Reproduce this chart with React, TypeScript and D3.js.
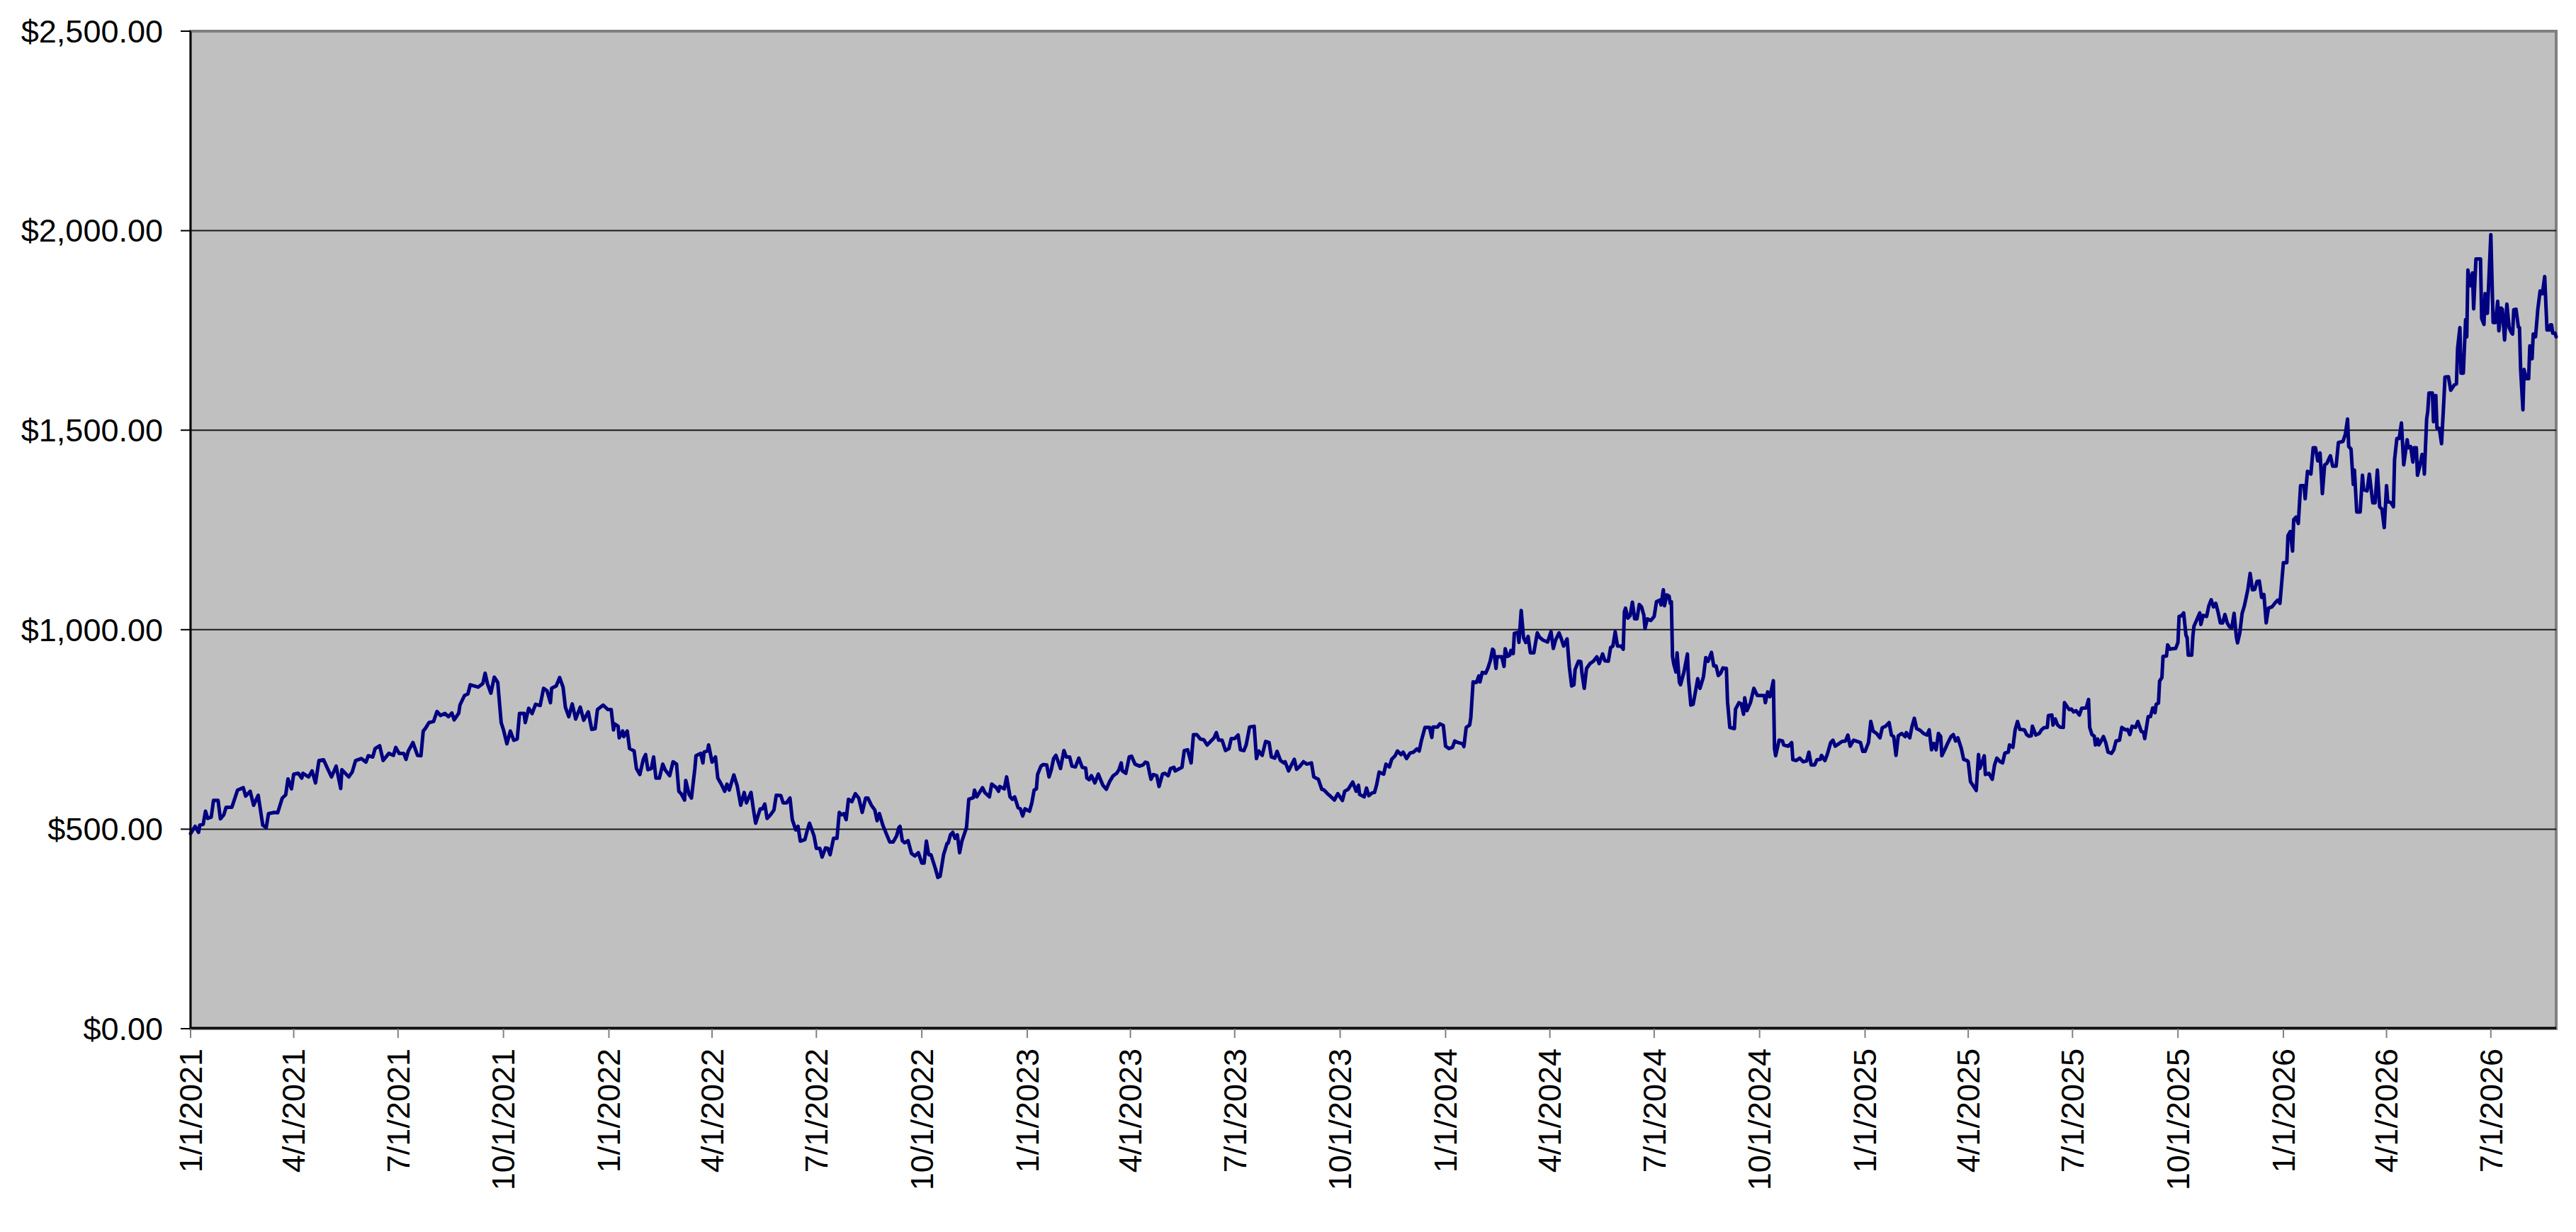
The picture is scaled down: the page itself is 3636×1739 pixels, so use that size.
import React from 'react';
import * as d3 from 'd3';

type Row = [string, number];

// closing prices, one small list per year
const prices2021: Row[] = [
  ['2021-01-01', 489], ['2021-01-05', 507], ['2021-01-08', 492], ['2021-01-09', 510], ['2021-01-12', 512],
  ['2021-01-14', 545], ['2021-01-16', 527], ['2021-01-19', 530], ['2021-01-21', 572], ['2021-01-25', 572],
  ['2021-01-27', 526], ['2021-01-30', 536], ['2021-02-01', 555], ['2021-02-06', 555], ['2021-02-11', 598],
  ['2021-02-16', 604], ['2021-02-18', 583], ['2021-02-22', 595], ['2021-02-25', 560], ['2021-03-01', 585],
  ['2021-03-05', 510], ['2021-03-08', 504], ['2021-03-10', 539], ['2021-03-15', 542], ['2021-03-18', 541],
  ['2021-03-22', 578], ['2021-03-25', 586], ['2021-03-27', 626], ['2021-03-30', 601], ['2021-04-01', 638],
  ['2021-04-05', 640], ['2021-04-08', 628], ['2021-04-09', 640], ['2021-04-14', 631], ['2021-04-17', 646],
  ['2021-04-20', 616], ['2021-04-23', 672], ['2021-04-27', 674], ['2021-05-01', 649], ['2021-05-04', 631],
  ['2021-05-08', 658], ['2021-05-12', 602], ['2021-05-13', 649], ['2021-05-19', 631], ['2021-05-22', 643],
  ['2021-05-25', 672], ['2021-05-30', 677], ['2021-06-03', 668], ['2021-06-05', 684], ['2021-06-09', 681],
  ['2021-06-11', 702], ['2021-06-15', 709], ['2021-06-18', 672], ['2021-06-23', 690], ['2021-06-27', 685],
  ['2021-06-29', 705], ['2021-07-02', 690], ['2021-07-06', 690], ['2021-07-08', 675], ['2021-07-10', 696],
  ['2021-07-14', 717], ['2021-07-18', 685], ['2021-07-21', 684], ['2021-07-23', 746], ['2021-07-25', 753],
  ['2021-07-28', 767], ['2021-08-01', 770], ['2021-08-04', 795], ['2021-08-07', 785], ['2021-08-11', 790],
  ['2021-08-14', 782], ['2021-08-17', 791], ['2021-08-19', 774], ['2021-08-23', 791], ['2021-08-24', 811],
  ['2021-08-28', 835], ['2021-08-31', 839], ['2021-09-02', 862], ['2021-09-09', 856], ['2021-09-13', 865],
  ['2021-09-15', 891], ['2021-09-17', 865], ['2021-09-20', 841], ['2021-09-23', 881], ['2021-09-26', 868],
  ['2021-09-29', 767], ['2021-10-01', 749], ['2021-10-04', 714], ['2021-10-07', 746], ['2021-10-10', 723],
  ['2021-10-13', 726], ['2021-10-15', 790], ['2021-10-19', 790], ['2021-10-20', 767], ['2021-10-23', 803],
  ['2021-10-26', 790], ['2021-10-29', 813], ['2021-11-02', 810], ['2021-11-05', 853], ['2021-11-08', 847],
  ['2021-11-11', 817], ['2021-11-12', 853], ['2021-11-16', 859], ['2021-11-19', 880], ['2021-11-22', 856],
  ['2021-11-24', 806], ['2021-11-27', 782], ['2021-11-30', 814], ['2021-12-03', 776], ['2021-12-07', 806],
  ['2021-12-10', 773], ['2021-12-14', 794], ['2021-12-17', 750], ['2021-12-20', 752], ['2021-12-22', 800],
  ['2021-12-27', 811], ['2021-12-31', 800],
];

const prices2022: Row[] = [
  ['2022-01-03', 800], ['2022-01-05', 749], ['2022-01-06', 764], ['2022-01-09', 758], ['2022-01-10', 729],
  ['2022-01-13', 746], ['2022-01-14', 732], ['2022-01-17', 746], ['2022-01-19', 702], ['2022-01-23', 696],
  ['2022-01-25', 652], ['2022-01-28', 637], ['2022-01-31', 675], ['2022-02-02', 687], ['2022-02-04', 649],
  ['2022-02-07', 652], ['2022-02-09', 681], ['2022-02-11', 628], ['2022-02-14', 628], ['2022-02-17', 663],
  ['2022-02-19', 649], ['2022-02-23', 634], ['2022-02-26', 669], ['2022-03-01', 663], ['2022-03-03', 595],
  ['2022-03-05', 589], ['2022-03-08', 573], ['2022-03-09', 622], ['2022-03-12', 587], ['2022-03-14', 578],
  ['2022-03-17', 652], ['2022-03-18', 684], ['2022-03-22', 690], ['2022-03-24', 666], ['2022-03-25', 693],
  ['2022-03-28', 696], ['2022-03-29', 711], ['2022-04-01', 668], ['2022-04-04', 681], ['2022-04-06', 628],
  ['2022-04-09', 613], ['2022-04-12', 595], ['2022-04-14', 613], ['2022-04-16', 598], ['2022-04-20', 636],
  ['2022-04-23', 608], ['2022-04-26', 560], ['2022-04-29', 592], ['2022-05-01', 566], ['2022-05-05', 592],
  ['2022-05-07', 551], ['2022-05-09', 515], ['2022-05-13', 551], ['2022-05-15', 551], ['2022-05-17', 563],
  ['2022-05-19', 527], ['2022-05-22', 536], ['2022-05-25', 548], ['2022-05-27', 585], ['2022-05-31', 584],
  ['2022-06-02', 566], ['2022-06-05', 566], ['2022-06-08', 578], ['2022-06-10', 524], ['2022-06-13', 498],
  ['2022-06-15', 507], ['2022-06-17', 470], ['2022-06-21', 474], ['2022-06-23', 496], ['2022-06-25', 515],
  ['2022-06-29', 483], ['2022-07-01', 452], ['2022-07-04', 452], ['2022-07-06', 430], ['2022-07-09', 453],
  ['2022-07-11', 452], ['2022-07-13', 436], ['2022-07-16', 477], ['2022-07-19', 477], ['2022-07-21', 542],
  ['2022-07-23', 536], ['2022-07-25', 539], ['2022-07-27', 524], ['2022-07-29', 575], ['2022-08-01', 569],
  ['2022-08-04', 589], ['2022-08-07', 578], ['2022-08-10', 542], ['2022-08-13', 578], ['2022-08-15', 578],
  ['2022-08-18', 560], ['2022-08-21', 548], ['2022-08-23', 521], ['2022-08-25', 539], ['2022-08-28', 510],
  ['2022-08-31', 489], ['2022-09-03', 468], ['2022-09-06', 468], ['2022-09-09', 483], ['2022-09-11', 504],
  ['2022-09-12', 507], ['2022-09-14', 471], ['2022-09-16', 466], ['2022-09-19', 471], ['2022-09-22', 439],
  ['2022-09-25', 433], ['2022-09-28', 441], ['2022-10-01', 415], ['2022-10-03', 415], ['2022-10-05', 470],
  ['2022-10-07', 436], ['2022-10-09', 436], ['2022-10-13', 400], ['2022-10-15', 379], ['2022-10-17', 382],
  ['2022-10-20', 436], ['2022-10-23', 464], ['2022-10-24', 465], ['2022-10-26', 486], ['2022-10-28', 492],
  ['2022-10-30', 477], ['2022-11-01', 486], ['2022-11-03', 441], ['2022-11-05', 470], ['2022-11-09', 504],
  ['2022-11-11', 575], ['2022-11-15', 579], ['2022-11-16', 598], ['2022-11-18', 581], ['2022-11-21', 595],
  ['2022-11-23', 604], ['2022-11-25', 592], ['2022-11-29', 581], ['2022-12-01', 613], ['2022-12-05', 604],
  ['2022-12-07', 595], ['2022-12-08', 607], ['2022-12-12', 601], ['2022-12-14', 631], ['2022-12-17', 581],
  ['2022-12-19', 575], ['2022-12-21', 581], ['2022-12-24', 554], ['2022-12-26', 551], ['2022-12-28', 533],
  ['2022-12-30', 551],
];

const prices2023: Row[] = [
  ['2023-01-03', 545], ['2023-01-05', 566], ['2023-01-07', 598], ['2023-01-09', 601], ['2023-01-10', 637],
  ['2023-01-13', 658], ['2023-01-15', 662], ['2023-01-18', 661], ['2023-01-20', 631], ['2023-01-22', 649],
  ['2023-01-24', 677], ['2023-01-26', 685], ['2023-01-28', 669], ['2023-01-30', 652], ['2023-02-02', 697],
  ['2023-02-04', 681], ['2023-02-07', 681], ['2023-02-09', 658], ['2023-02-12', 656], ['2023-02-15', 678],
  ['2023-02-18', 655], ['2023-02-21', 653], ['2023-02-22', 628], ['2023-02-24', 624], ['2023-02-26', 634],
  ['2023-03-01', 616], ['2023-03-04', 638], ['2023-03-08', 610], ['2023-03-11', 600], ['2023-03-14', 620],
  ['2023-03-17', 634], ['2023-03-20', 640], ['2023-03-22', 649], ['2023-03-24', 666], ['2023-03-25', 646],
  ['2023-03-28', 640], ['2023-03-31', 681], ['2023-04-02', 683], ['2023-04-05', 663], ['2023-04-09', 658],
  ['2023-04-12', 661], ['2023-04-14', 668], ['2023-04-16', 666], ['2023-04-18', 637], ['2023-04-19', 625],
  ['2023-04-21', 637], ['2023-04-24', 634], ['2023-04-26', 607], ['2023-04-29', 638], ['2023-05-01', 640],
  ['2023-05-04', 634], ['2023-05-06', 652], ['2023-05-09', 655], ['2023-05-10', 646], ['2023-05-12', 649],
  ['2023-05-16', 655], ['2023-05-18', 697], ['2023-05-21', 699], ['2023-05-24', 666], ['2023-05-26', 737],
  ['2023-05-29', 737], ['2023-06-01', 726], ['2023-06-04', 724], ['2023-06-07', 711], ['2023-06-10', 720],
  ['2023-06-13', 729], ['2023-06-15', 742], ['2023-06-17', 723], ['2023-06-20', 723], ['2023-06-23', 697],
  ['2023-06-26', 702], ['2023-06-28', 727], ['2023-07-01', 727], ['2023-07-04', 736], ['2023-07-06', 699],
  ['2023-07-09', 697], ['2023-07-11', 711], ['2023-07-14', 756], ['2023-07-18', 758], ['2023-07-20', 677],
  ['2023-07-22', 696], ['2023-07-25', 685], ['2023-07-28', 720], ['2023-07-31', 717], ['2023-08-02', 681],
  ['2023-08-05', 678], ['2023-08-07', 695], ['2023-08-10', 672], ['2023-08-13', 666], ['2023-08-14', 669],
  ['2023-08-17', 646], ['2023-08-19', 658], ['2023-08-22', 675], ['2023-08-24', 650], ['2023-08-27', 658],
  ['2023-08-30', 669], ['2023-09-02', 663], ['2023-09-06', 666], ['2023-09-08', 631], ['2023-09-12', 625],
  ['2023-09-15', 600], ['2023-09-17', 598], ['2023-09-20', 589], ['2023-09-22', 584], ['2023-09-26', 573],
  ['2023-09-29', 589], ['2023-10-03', 572], ['2023-10-05', 595], ['2023-10-08', 600], ['2023-10-12', 618],
  ['2023-10-15', 595], ['2023-10-17', 610], ['2023-10-18', 587], ['2023-10-22', 581], ['2023-10-24', 603],
  ['2023-10-26', 584], ['2023-10-29', 591], ['2023-10-31', 592], ['2023-11-02', 613], ['2023-11-04', 643],
  ['2023-11-08', 638], ['2023-11-10', 663], ['2023-11-13', 656], ['2023-11-15', 675], ['2023-11-18', 684],
  ['2023-11-20', 696], ['2023-11-23', 687], ['2023-11-25', 693], ['2023-11-28', 677], ['2023-12-01', 691],
  ['2023-12-04', 693], ['2023-12-07', 701], ['2023-12-09', 696], ['2023-12-11', 723], ['2023-12-14', 755],
  ['2023-12-18', 755], ['2023-12-20', 730], ['2023-12-21', 756], ['2023-12-25', 756], ['2023-12-27', 764],
  ['2023-12-30', 760],
];

const prices2024: Row[] = [
  ['2024-01-01', 708], ['2024-01-04', 702], ['2024-01-07', 705], ['2024-01-09', 721], ['2024-01-12', 717],
  ['2024-01-16', 714], ['2024-01-17', 707], ['2024-01-19', 755], ['2024-01-22', 761], ['2024-01-23', 779],
  ['2024-01-25', 869], ['2024-01-28', 868], ['2024-01-30', 884], ['2024-01-31', 869], ['2024-02-02', 893],
  ['2024-02-05', 891], ['2024-02-07', 904], ['2024-02-09', 922], ['2024-02-11', 951], ['2024-02-12', 948],
  ['2024-02-14', 903], ['2024-02-15', 932], ['2024-02-19', 932], ['2024-02-21', 908], ['2024-02-22', 952],
  ['2024-02-24', 933], ['2024-02-26', 936], ['2024-02-27', 948], ['2024-02-29', 940], ['2024-03-01', 991],
  ['2024-03-04', 993], ['2024-03-05', 968], ['2024-03-07', 1048], ['2024-03-09', 980], ['2024-03-11', 968],
  ['2024-03-13', 983], ['2024-03-15', 942], ['2024-03-18', 942], ['2024-03-21', 992], ['2024-03-23', 981],
  ['2024-03-26', 974], ['2024-03-30', 969], ['2024-04-02', 995], ['2024-04-04', 953], ['2024-04-06', 974],
  ['2024-04-09', 992], ['2024-04-11', 977], ['2024-04-13', 959], ['2024-04-16', 977], ['2024-04-18', 906],
  ['2024-04-20', 859], ['2024-04-22', 862], ['2024-04-23', 900], ['2024-04-26', 921], ['2024-04-28', 920],
  ['2024-04-29', 891], ['2024-05-01', 853], ['2024-05-03', 903], ['2024-05-06', 915], ['2024-05-09', 921],
  ['2024-05-12', 932], ['2024-05-14', 915], ['2024-05-17', 939], ['2024-05-19', 922], ['2024-05-22', 921],
  ['2024-05-24', 955], ['2024-05-26', 959], ['2024-05-28', 995], ['2024-05-30', 959], ['2024-06-02', 959],
  ['2024-06-04', 951], ['2024-06-05', 1045], ['2024-06-06', 1054], ['2024-06-08', 1029], ['2024-06-10', 1035],
  ['2024-06-12', 1069], ['2024-06-14', 1027], ['2024-06-16', 1027], ['2024-06-18', 1063], ['2024-06-20', 1057],
  ['2024-06-22', 1036], ['2024-06-23', 1003], ['2024-06-25', 1027], ['2024-06-28', 1023], ['2024-07-01', 1033],
  ['2024-07-03', 1070], ['2024-07-06', 1074], ['2024-07-07', 1062], ['2024-07-09', 1100], ['2024-07-10', 1060],
  ['2024-07-12', 1087], ['2024-07-14', 1084], ['2024-07-15', 1066], ['2024-07-16', 1070], ['2024-07-17', 933],
  ['2024-07-18', 915], ['2024-07-20', 894], ['2024-07-21', 942], ['2024-07-23', 868], ['2024-07-24', 862],
  ['2024-07-27', 894], ['2024-07-30', 939], ['2024-07-31', 874], ['2024-08-02', 811], ['2024-08-04', 813],
  ['2024-08-06', 844], ['2024-08-08', 877], ['2024-08-10', 853], ['2024-08-13', 882], ['2024-08-15', 930],
  ['2024-08-17', 921], ['2024-08-20', 943], ['2024-08-22', 909], ['2024-08-24', 909], ['2024-08-26', 885],
  ['2024-08-28', 891], ['2024-08-30', 904], ['2024-09-02', 903], ['2024-09-03', 820], ['2024-09-05', 755],
  ['2024-09-09', 752], ['2024-09-10', 801], ['2024-09-13', 817], ['2024-09-15', 814], ['2024-09-17', 788],
  ['2024-09-18', 829], ['2024-09-20', 797], ['2024-09-23', 817], ['2024-09-26', 853], ['2024-09-29', 835],
  ['2024-10-02', 835], ['2024-10-05', 835], ['2024-10-06', 817], ['2024-10-08', 844], ['2024-10-10', 832],
  ['2024-10-13', 872], ['2024-10-14', 702], ['2024-10-15', 684], ['2024-10-18', 723], ['2024-10-21', 721],
  ['2024-10-22', 711], ['2024-10-26', 708], ['2024-10-29', 717], ['2024-10-30', 674], ['2024-11-02', 672],
  ['2024-11-05', 678], ['2024-11-08', 669], ['2024-11-11', 671], ['2024-11-13', 693], ['2024-11-15', 661],
  ['2024-11-18', 661], ['2024-11-20', 674], ['2024-11-23', 675], ['2024-11-24', 685], ['2024-11-27', 672],
  ['2024-11-29', 687], ['2024-12-02', 717], ['2024-12-04', 723], ['2024-12-06', 708], ['2024-12-09', 714],
  ['2024-12-12', 720], ['2024-12-15', 721], ['2024-12-17', 736], ['2024-12-19', 708], ['2024-12-22', 723],
  ['2024-12-24', 721], ['2024-12-28', 717], ['2024-12-30', 695],
];

const prices2025: Row[] = [
  ['2025-01-01', 695], ['2025-01-04', 717], ['2025-01-06', 770], ['2025-01-08', 746], ['2025-01-11', 740],
  ['2025-01-14', 729], ['2025-01-16', 754], ['2025-01-19', 758], ['2025-01-22', 767], ['2025-01-24', 736],
  ['2025-01-26', 732], ['2025-01-28', 685], ['2025-01-30', 734], ['2025-02-02', 740], ['2025-02-05', 732],
  ['2025-02-06', 742], ['2025-02-09', 729], ['2025-02-11', 758], ['2025-02-13', 778], ['2025-02-15', 752],
  ['2025-02-18', 748], ['2025-02-21', 740], ['2025-02-24', 736], ['2025-02-26', 749], ['2025-02-28', 699],
  ['2025-03-02', 715], ['2025-03-04', 699], ['2025-03-06', 740], ['2025-03-08', 732], ['2025-03-09', 684],
  ['2025-03-12', 702], ['2025-03-14', 715], ['2025-03-17', 732], ['2025-03-19', 737], ['2025-03-21', 721],
  ['2025-03-23', 729], ['2025-03-26', 702], ['2025-03-28', 675], ['2025-03-31', 672], ['2025-04-01', 669],
  ['2025-04-03', 619], ['2025-04-06', 606], ['2025-04-08', 597], ['2025-04-10', 687], ['2025-04-11', 652],
  ['2025-04-13', 666], ['2025-04-15', 684], ['2025-04-16', 637], ['2025-04-19', 640], ['2025-04-22', 625],
  ['2025-04-24', 661], ['2025-04-26', 678], ['2025-04-29', 669], ['2025-05-01', 666], ['2025-05-03', 691],
  ['2025-05-06', 693], ['2025-05-07', 711], ['2025-05-10', 705], ['2025-05-12', 750], ['2025-05-14', 770],
  ['2025-05-16', 750], ['2025-05-20', 749], ['2025-05-22', 737], ['2025-05-24', 733], ['2025-05-26', 734],
  ['2025-05-27', 758], ['2025-05-30', 736], ['2025-06-02', 740], ['2025-06-04', 749], ['2025-06-06', 754],
  ['2025-06-09', 755], ['2025-06-10', 785], ['2025-06-13', 786], ['2025-06-14', 761], ['2025-06-16', 776],
  ['2025-06-18', 761], ['2025-06-20', 756], ['2025-06-23', 755], ['2025-06-24', 817], ['2025-06-28', 800],
  ['2025-06-30', 801], ['2025-07-02', 794], ['2025-07-04', 797], ['2025-07-07', 786], ['2025-07-09', 803],
  ['2025-07-13', 804], ['2025-07-15', 825], ['2025-07-16', 755], ['2025-07-18', 737], ['2025-07-20', 733],
  ['2025-07-21', 711], ['2025-07-23', 726], ['2025-07-24', 711], ['2025-07-26', 721], ['2025-07-28', 732],
  ['2025-07-30', 717], ['2025-08-01', 693], ['2025-08-04', 690], ['2025-08-06', 699], ['2025-08-08', 721],
  ['2025-08-11', 723], ['2025-08-13', 755], ['2025-08-16', 749], ['2025-08-18', 750], ['2025-08-20', 737],
  ['2025-08-22', 758], ['2025-08-25', 755], ['2025-08-27', 770], ['2025-08-30', 745], ['2025-09-01', 743],
  ['2025-09-02', 727], ['2025-09-05', 782], ['2025-09-07', 782], ['2025-09-09', 804], ['2025-09-11', 792],
  ['2025-09-12', 813], ['2025-09-14', 816], ['2025-09-15', 871], ['2025-09-17', 880], ['2025-09-18', 933],
  ['2025-09-21', 934], ['2025-09-22', 962], ['2025-09-24', 951], ['2025-09-26', 952], ['2025-09-29', 953],
  ['2025-10-01', 968], ['2025-10-02', 1033], ['2025-10-04', 1035], ['2025-10-06', 1042], ['2025-10-08', 986],
  ['2025-10-09', 980], ['2025-10-10', 936], ['2025-10-13', 936], ['2025-10-14', 983], ['2025-10-15', 1009],
  ['2025-10-17', 1022], ['2025-10-20', 1042], ['2025-10-21', 1013], ['2025-10-23', 1036], ['2025-10-26', 1033],
  ['2025-10-28', 1060], ['2025-10-30', 1075], ['2025-11-01', 1057], ['2025-11-03', 1066], ['2025-11-05', 1044],
  ['2025-11-07', 1017], ['2025-11-09', 1017], ['2025-11-11', 1038], ['2025-11-13', 1017], ['2025-11-15', 1007],
  ['2025-11-17', 1005], ['2025-11-19', 1041], ['2025-11-21', 981], ['2025-11-22', 967], ['2025-11-24', 992],
  ['2025-11-26', 1041], ['2025-11-28', 1060], ['2025-12-01', 1101], ['2025-12-03', 1141], ['2025-12-05', 1100],
  ['2025-12-07', 1101], ['2025-12-09', 1121], ['2025-12-11', 1122], ['2025-12-13', 1081], ['2025-12-15', 1088],
  ['2025-12-17', 1017], ['2025-12-19', 1054], ['2025-12-22', 1057], ['2025-12-25', 1068], ['2025-12-27', 1074],
  ['2025-12-29', 1066],
];

const prices2026: Row[] = [
  ['2026-01-01', 1168], ['2026-01-04', 1168], ['2026-01-05', 1236], ['2026-01-07', 1246], ['2026-01-09', 1197],
  ['2026-01-10', 1276], ['2026-01-12', 1282], ['2026-01-14', 1266], ['2026-01-16', 1361], ['2026-01-19', 1361],
  ['2026-01-20', 1328], ['2026-01-22', 1397], ['2026-01-25', 1390], ['2026-01-27', 1456], ['2026-01-29', 1456],
  ['2026-01-31', 1423], ['2026-02-02', 1443], ['2026-02-04', 1341], ['2026-02-06', 1413], ['2026-02-08', 1417],
  ['2026-02-10', 1430], ['2026-02-11', 1436], ['2026-02-13', 1410], ['2026-02-16', 1410], ['2026-02-18', 1469],
  ['2026-02-22', 1472], ['2026-02-24', 1489], ['2026-02-26', 1528], ['2026-02-27', 1459], ['2026-03-01', 1453],
  ['2026-03-03', 1364], ['2026-03-04', 1400], ['2026-03-06', 1295], ['2026-03-09', 1295], ['2026-03-11', 1387],
  ['2026-03-12', 1351], ['2026-03-15', 1348], ['2026-03-17', 1390], ['2026-03-20', 1318], ['2026-03-22', 1318],
  ['2026-03-24', 1400], ['2026-03-26', 1308], ['2026-03-28', 1302], ['2026-03-30', 1256], ['2026-04-01', 1361],
  ['2026-04-02', 1322], ['2026-04-05', 1318], ['2026-04-07', 1308], ['2026-04-08', 1426], ['2026-04-10', 1479],
  ['2026-04-12', 1479], ['2026-04-14', 1518], ['2026-04-16', 1413], ['2026-04-19', 1476], ['2026-04-20', 1456],
  ['2026-04-22', 1459], ['2026-04-24', 1420], ['2026-04-25', 1456], ['2026-04-27', 1456], ['2026-04-28', 1387],
  ['2026-04-30', 1410], ['2026-05-02', 1439], ['2026-05-03', 1436], ['2026-05-04', 1390], ['2026-05-06', 1528],
  ['2026-05-07', 1548], ['2026-05-08', 1593], ['2026-05-11', 1593], ['2026-05-12', 1521], ['2026-05-14', 1587],
  ['2026-05-15', 1505], ['2026-05-17', 1505], ['2026-05-19', 1466], ['2026-05-21', 1574], ['2026-05-22', 1633],
  ['2026-05-25', 1634], ['2026-05-27', 1600], ['2026-05-30', 1613], ['2026-06-01', 1616], ['2026-06-02', 1705],
  ['2026-06-04', 1757], ['2026-06-05', 1643], ['2026-06-07', 1643], ['2026-06-09', 1777], ['2026-06-10', 1734],
  ['2026-06-11', 1901], ['2026-06-13', 1862], ['2026-06-15', 1894], ['2026-06-16', 1804], ['2026-06-18', 1929],
  ['2026-06-22', 1929], ['2026-06-23', 1780], ['2026-06-25', 1765], ['2026-06-26', 1842], ['2026-06-27', 1793],
  ['2026-06-28', 1793], ['2026-07-01', 1990], ['2026-07-03', 1770], ['2026-07-05', 1770], ['2026-07-07', 1823],
  ['2026-07-08', 1749], ['2026-07-10', 1806], ['2026-07-11', 1803], ['2026-07-13', 1726], ['2026-07-15', 1816],
  ['2026-07-17', 1757], ['2026-07-19', 1744], ['2026-07-20', 1741], ['2026-07-21', 1802], ['2026-07-23', 1803],
  ['2026-07-25', 1759], ['2026-07-26', 1757], ['2026-07-27', 1652], ['2026-07-29', 1551], ['2026-07-30', 1652],
  ['2026-08-01', 1629], ['2026-08-03', 1629], ['2026-08-04', 1711], ['2026-08-06', 1679], ['2026-08-07', 1741],
  ['2026-08-09', 1734], ['2026-08-11', 1803], ['2026-08-13', 1849], ['2026-08-15', 1842], ['2026-08-17', 1885],
  ['2026-08-19', 1751], ['2026-08-21', 1751], ['2026-08-22', 1764], ['2026-08-23', 1764], ['2026-08-24', 1743],
  ['2026-08-26', 1743], ['2026-08-27', 1734],
];

const yTickValues = [0, 500, 1000, 1500, 2000, 2500];

const width = 3636;
const height = 1739;
const margin = { top: 44, right: 28, bottom: 287, left: 269 };
const font = '"Liberation Sans", Arial, sans-serif';

export default function App() {
  const parse = d3.timeParse('%Y-%m-%d');
  const data = [prices2021, prices2022, prices2023, prices2024, prices2025, prices2026]
    .flat()
    .map(([d, v]) => ({ date: parse(d) as Date, value: v }));

  const x0 = margin.left;
  const x1 = width - margin.right;
  const yTop = margin.top;
  const yBottom = height - margin.bottom;

  const x = d3.scaleTime()
    .domain(d3.extent(data, d => d.date) as [Date, Date])
    .range([x0, x1]);

  const y = d3.scaleLinear()
    .domain([0, 2500])
    .range([yBottom, yTop]);

  const xTicks = d3.timeMonth.every(3)!.range(x.domain()[0], x.domain()[1]);
  const fmtDate = d3.timeFormat('%-m/%-d/%Y');
  const fmtMoney = d3.format('$,.2f');

  const line = d3.line<{ date: Date; value: number }>()
    .x(d => x(d.date))
    .y(d => y(d.value));

  return (
    <svg
      width={width}
      height={height}
      style={{ position: 'absolute', left: 0, top: 0, display: 'block', background: '#fff' }}
      fontFamily={font}
    >
      {/* plot area */}
      <rect x={x0} y={yTop} width={x1 - x0} height={yBottom - yTop}
        fill="#c0c0c0" stroke="#808080" strokeWidth={4} />

      {/* horizontal gridlines */}
      {yTickValues.filter(v => v > 0 && v < 2500).map(v => (
        <line key={v} x1={x0} x2={x1} y1={y(v)} y2={y(v)} stroke="#1a1a1a" strokeWidth={2} />
      ))}

      {/* price line */}
      <path d={line(data) ?? ''} fill="none" stroke="#000080" strokeWidth={5}
        strokeLinejoin="round" strokeLinecap="round" />

      {/* y axis */}
      <line x1={x0} x2={x0} y1={yTop} y2={yBottom} stroke="#000" strokeWidth={2.5} />
      {yTickValues.map(v => (
        <g key={v}>
          <line x1={x0 - 14} x2={x0} y1={y(v)} y2={y(v)} stroke="#000" strokeWidth={2} />
          <text x={230} y={y(v)} dy="0.35em" textAnchor="end" fontSize={45} fill="#000">
            {fmtMoney(v)}
          </text>
        </g>
      ))}

      {/* x axis */}
      <line x1={x0} x2={x1} y1={yBottom - 1} y2={yBottom - 1} stroke="#000" strokeWidth={3} />
      {xTicks.map(t => (
        <g key={t.getTime()}>
          <line x1={x(t)} x2={x(t)} y1={yBottom} y2={yBottom + 13} stroke="#808080" strokeWidth={2} />
          <text transform={`translate(${x(t)},${yBottom + 28}) rotate(-90)`} dy="0.35em"
            textAnchor="end" fontSize={45} fill="#000">
            {fmtDate(t)}
          </text>
        </g>
      ))}
    </svg>
  );
}
